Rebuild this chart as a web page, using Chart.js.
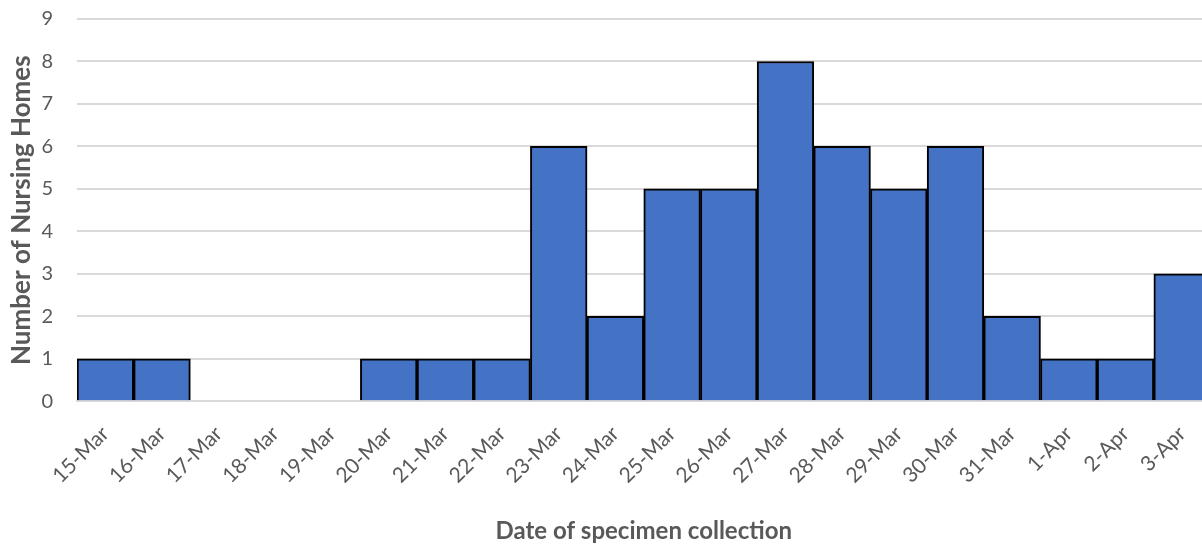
<!DOCTYPE html>
<html>
<head>
<meta charset="utf-8">
<script src="https://cdn.jsdelivr.net/npm/chart.js@4/dist/chart.umd.min.js"></script>
<style>
  html, body { margin: 0; padding: 0; background: #fff; overflow: hidden; }
  #wrap { width: 1212px; height: 565px; margin-top: -17px; position: relative; }
</style>
</head>
<body>
<div id="wrap"><canvas id="chart"></canvas></div>
<script>
const dates = ['15-Mar', '16-Mar', '17-Mar', '18-Mar', '19-Mar', '20-Mar', '21-Mar', '22-Mar', '23-Mar', '24-Mar',
    '25-Mar', '26-Mar', '27-Mar', '28-Mar', '29-Mar', '30-Mar', '31-Mar', '1-Apr', '2-Apr', '3-Apr'];
const homes = [1, 1, 0, 0, 0, 1, 1, 1, 6, 2, 5, 5, 8, 6, 5, 6, 2, 1, 1, 3];
const yTicks = [0, 1, 2, 3, 4, 5, 6, 7, 8, 9];

const grey = '#595959';
const font = 'Lato, "Open Sans", sans-serif';

new Chart(document.getElementById('chart').getContext('2d'), {
    type: 'bar',
    data: {
        labels: dates,
        datasets: [{
            data: homes,
            backgroundColor: '#4472C4',
            borderColor: '#000',
            borderWidth: 2,
            categoryPercentage: 1,
            barPercentage: 1
        }]
    },
    options: {
        responsive: true,
        maintainAspectRatio: false,
        animation: false,
        layout: { padding: { top: -9, right: 0, left: 0, bottom: 2 } },
        plugins: {
            legend: { display: false },
            tooltip: { enabled: false }
        },
        scales: {
            x: {
                grid: { display: false },
                border: { color: '#d9d9d9', width: 2 },
                ticks: {
                    color: grey,
                    font: { family: font, size: 21 },
                    minRotation: 45,
                    maxRotation: 45,
                    padding: 12
                },
                title: {
                    display: true,
                    text: 'Date of specimen collection',
                    color: grey,
                    font: { family: font, size: 24, weight: 'bold' },
                    padding: { top: 17, bottom: 0 }
                }
            },
            y: {
                min: 0,
                max: 9,
                afterBuildTicks: axis => { axis.ticks = yTicks.map(v => ({ value: v })); },
                afterFit: axis => { axis.width = 77; },
                grid: { color: '#d9d9d9', lineWidth: 2, drawTicks: false },
                border: { display: false },
                ticks: {
                    color: grey,
                    font: { family: font, size: 20 },
                    padding: 24
                },
                title: {
                    display: true,
                    text: 'Number of Nursing Homes',
                    color: grey,
                    font: { family: font, size: 26, weight: 'bold' },
                    padding: { top: 6, bottom: 0 }
                }
            }
        }
    }
});
</script>
</body>
</html>
